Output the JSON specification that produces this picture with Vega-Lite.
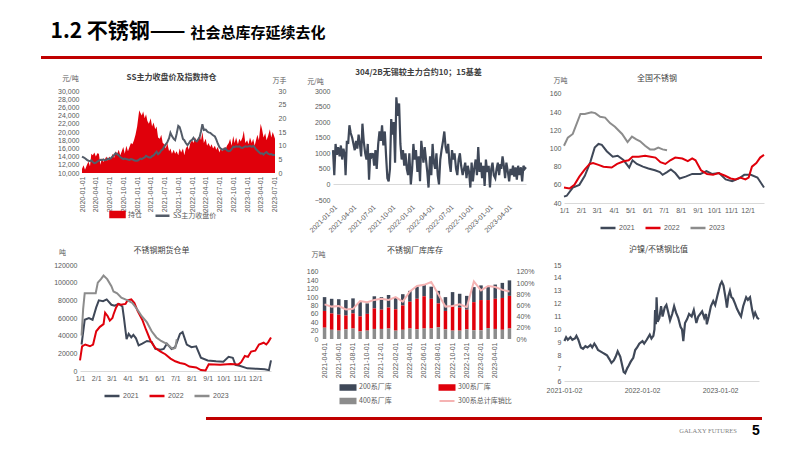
{
"$schema":"https://vega.github.io/schema/vega-lite/v6.json",
"background":"white",
"padding":{"left":41,"top":20,"right":4,"bottom":4},
"config":{
 "font":"Liberation Sans",
 "view":{"stroke":null},
 "axis":{"labelFontSize":7,"labelColor":"#595959","domain":false,"ticks":false,"grid":false,"titleFontSize":7,"titleColor":"#595959","titleFontWeight":"normal","titleFont":"Noto Sans CJK SC","labelPadding":3},
 "legend":{"labelFontSize":7,"labelColor":"#595959","labelFont":"Noto Sans CJK SC","orient":"none","direction":"horizontal"},
 "title":{"fontSize":8,"fontWeight":"normal","color":"#404040","font":"Noto Sans CJK SC","anchor":"middle"}
},
"datasets":{
"p1":[
{"d":"2020-01-01","p":14000,"h":1.5},{"d":"2020-01-11","p":13800,"h":2.8},{"d":"2020-01-21","p":13600,"h":1.2},
{"d":"2020-02-03","p":13200,"h":3.0},{"d":"2020-02-13","p":13000,"h":4.2},{"d":"2020-02-23","p":12900,"h":2.5},
{"d":"2020-03-03","p":13100,"h":7.0},{"d":"2020-03-13","p":12700,"h":6.5},{"d":"2020-03-23","p":12400,"h":7.5},
{"d":"2020-04-02","p":12500,"h":6.0},{"d":"2020-04-12","p":12800,"h":7.2},{"d":"2020-04-22","p":13000,"h":7.0},
{"d":"2020-05-02","p":13200,"h":3.0},{"d":"2020-05-12","p":13100,"h":5.5},{"d":"2020-05-22","p":13300,"h":4.0},
{"d":"2020-06-01","p":13100,"h":5.0},{"d":"2020-06-11","p":13200,"h":6.0},{"d":"2020-06-21","p":13500,"h":4.5},
{"d":"2020-07-01","p":13400,"h":6.0},{"d":"2020-07-11","p":13600,"h":5.0},{"d":"2020-07-21","p":14000,"h":7.0},
{"d":"2020-08-01","p":14400,"h":5.5},{"d":"2020-08-11","p":14800,"h":8.0},{"d":"2020-08-21","p":14600,"h":7.0},
{"d":"2020-09-01","p":14300,"h":8.5},{"d":"2020-09-11","p":13900,"h":6.5},{"d":"2020-09-21","p":13600,"h":8.0},
{"d":"2020-10-01","p":13400,"h":9.5},{"d":"2020-10-11","p":13500,"h":7.0},{"d":"2020-10-21","p":13400,"h":10.0},
{"d":"2020-11-01","p":13300,"h":8.0},{"d":"2020-11-11","p":13200,"h":9.5},{"d":"2020-11-21","p":13400,"h":11.0},
{"d":"2020-12-01","p":13300,"h":10.5},{"d":"2020-12-11","p":13100,"h":12.0},{"d":"2020-12-21","p":13000,"h":14.0},
{"d":"2021-01-01","p":13000,"h":17.0},{"d":"2021-01-08","p":13100,"h":20.0},{"d":"2021-01-15","p":13300,"h":23.0},{"d":"2021-01-22","p":13500,"h":22.0},
{"d":"2021-02-01","p":13400,"h":21.0},{"d":"2021-02-10","p":13600,"h":22.5},{"d":"2021-02-20","p":13800,"h":20.0},
{"d":"2021-03-01","p":14200,"h":21.5},{"d":"2021-03-10","p":14000,"h":19.0},{"d":"2021-03-20","p":13800,"h":18.0},
{"d":"2021-04-01","p":13800,"h":20.0},{"d":"2021-04-10","p":14100,"h":17.0},{"d":"2021-04-20","p":14300,"h":18.5},
{"d":"2021-05-01","p":14800,"h":16.0},{"d":"2021-05-10","p":15200,"h":17.0},{"d":"2021-05-20","p":14600,"h":13.0},
{"d":"2021-06-01","p":15000,"h":12.5},{"d":"2021-06-10","p":15500,"h":14.0},{"d":"2021-06-20","p":15800,"h":11.0},
{"d":"2021-07-01","p":16500,"h":10.5},{"d":"2021-07-10","p":17000,"h":9.0},{"d":"2021-07-20","p":17500,"h":11.0},
{"d":"2021-08-01","p":18500,"h":8.0},{"d":"2021-08-10","p":19800,"h":9.0},{"d":"2021-08-20","p":19000,"h":7.0},
{"d":"2021-09-01","p":18300,"h":8.5},{"d":"2021-09-10","p":18000,"h":7.0},{"d":"2021-09-20","p":19500,"h":8.0},
{"d":"2021-10-01","p":21500,"h":6.5},{"d":"2021-10-10","p":21200,"h":9.0},{"d":"2021-10-20","p":20000,"h":7.5},
{"d":"2021-11-01","p":18300,"h":9.0},{"d":"2021-11-10","p":18000,"h":6.5},{"d":"2021-11-20","p":17300,"h":9.0},
{"d":"2021-12-01","p":16800,"h":10.0},{"d":"2021-12-10","p":17200,"h":8.5},{"d":"2021-12-20","p":17800,"h":11.0},
{"d":"2022-01-01","p":18100,"h":12.0},{"d":"2022-01-10","p":18600,"h":11.0},{"d":"2022-01-20","p":18000,"h":13.0},
{"d":"2022-02-01","p":17700,"h":11.5},{"d":"2022-02-10","p":18200,"h":12.5},{"d":"2022-02-20","p":18800,"h":14.0},
{"d":"2022-03-01","p":20200,"h":12.0},{"d":"2022-03-10","p":21900,"h":15.0},{"d":"2022-03-20","p":20500,"h":11.0},
{"d":"2022-04-01","p":20600,"h":12.5},{"d":"2022-04-10","p":20200,"h":10.0},{"d":"2022-04-20","p":19900,"h":11.0},
{"d":"2022-05-01","p":19800,"h":9.5},{"d":"2022-05-10","p":19500,"h":10.5},{"d":"2022-05-20","p":19200,"h":9.0},
{"d":"2022-06-01","p":18900,"h":10.0},{"d":"2022-06-10","p":18200,"h":8.5},{"d":"2022-06-20","p":17200,"h":9.5},
{"d":"2022-07-01","p":16300,"h":7.5},{"d":"2022-07-10","p":16000,"h":9.0},{"d":"2022-07-20","p":15700,"h":8.0},
{"d":"2022-08-01","p":15800,"h":9.5},{"d":"2022-08-10","p":16000,"h":8.5},{"d":"2022-08-20","p":15500,"h":10.0},
{"d":"2022-09-01","p":15300,"h":11.0},{"d":"2022-09-10","p":15400,"h":12.5},{"d":"2022-09-20","p":15800,"h":10.0},
{"d":"2022-10-01","p":16400,"h":13.5},{"d":"2022-10-10","p":16300,"h":11.0},{"d":"2022-10-20","p":16500,"h":13.0},
{"d":"2022-11-01","p":16400,"h":10.5},{"d":"2022-11-10","p":16500,"h":12.5},{"d":"2022-11-20","p":16200,"h":11.5},
{"d":"2022-12-01","p":16100,"h":13.0},{"d":"2022-12-10","p":16300,"h":15.5},{"d":"2022-12-20","p":16500,"h":11.0},
{"d":"2023-01-01","p":16400,"h":12.0},{"d":"2023-01-10","p":16500,"h":10.5},{"d":"2023-01-20","p":16600,"h":13.0},
{"d":"2023-02-01","p":16400,"h":11.0},{"d":"2023-02-10","p":16600,"h":12.5},{"d":"2023-02-20","p":16300,"h":10.0},
{"d":"2023-03-01","p":15800,"h":12.0},{"d":"2023-03-10","p":15500,"h":14.0},{"d":"2023-03-20","p":15100,"h":12.0},
{"d":"2023-04-01","p":14700,"h":18.0},{"d":"2023-04-10","p":14800,"h":16.0},{"d":"2023-04-20","p":14500,"h":13.0},
{"d":"2023-05-01","p":14900,"h":14.5},{"d":"2023-05-10","p":15100,"h":12.0},{"d":"2023-05-20","p":14700,"h":13.5},
{"d":"2023-06-01","p":14500,"h":16.0},{"d":"2023-06-10","p":14600,"h":13.0},{"d":"2023-06-20","p":14400,"h":15.0},
{"d":"2023-07-05","p":14400,"h":12.5}
],
"p2":[
{"d":"2021-01-01","v":1100},{"d":"2021-01-07","v":300},{"d":"2021-01-13","v":1300},{"d":"2021-01-19","v":950},{"d":"2021-01-25","v":1200},
{"d":"2021-02-01","v":900},{"d":"2021-02-07","v":1250},{"d":"2021-02-13","v":800},{"d":"2021-02-19","v":1150},{"d":"2021-02-25","v":950},
{"d":"2021-03-01","v":300},{"d":"2021-03-07","v":1400},{"d":"2021-03-13","v":1300},{"d":"2021-03-19","v":1900},{"d":"2021-03-25","v":1650},
{"d":"2021-04-01","v":1500},{"d":"2021-04-07","v":1300},{"d":"2021-04-13","v":1100},{"d":"2021-04-19","v":1400},{"d":"2021-04-25","v":1150},
{"d":"2021-05-01","v":1600},{"d":"2021-05-07","v":1300},{"d":"2021-05-13","v":900},{"d":"2021-05-19","v":1950},{"d":"2021-05-25","v":1400},
{"d":"2021-06-01","v":1000},{"d":"2021-06-07","v":800},{"d":"2021-06-13","v":1300},{"d":"2021-06-19","v":150},{"d":"2021-06-25","v":1000},
{"d":"2021-07-01","v":900},{"d":"2021-07-07","v":1000},{"d":"2021-07-13","v":600},{"d":"2021-07-19","v":1100},{"d":"2021-07-25","v":500},
{"d":"2021-08-01","v":1300},{"d":"2021-08-07","v":1700},{"d":"2021-08-13","v":1400},{"d":"2021-08-19","v":1900},{"d":"2021-08-25","v":1250},
{"d":"2021-09-01","v":1700},{"d":"2021-09-07","v":900},{"d":"2021-09-13","v":200},{"d":"2021-09-19","v":100},{"d":"2021-09-25","v":500},
{"d":"2021-10-01","v":2100},{"d":"2021-10-07","v":1600},{"d":"2021-10-13","v":2000},{"d":"2021-10-19","v":700},{"d":"2021-10-25","v":2800},
{"d":"2021-11-01","v":2200},{"d":"2021-11-07","v":2600},{"d":"2021-11-13","v":1300},{"d":"2021-11-19","v":800},{"d":"2021-11-25","v":1100},
{"d":"2021-12-01","v":600},{"d":"2021-12-07","v":1000},{"d":"2021-12-13","v":500},{"d":"2021-12-19","v":300},{"d":"2021-12-25","v":1000},
{"d":"2022-01-01","v":0},{"d":"2022-01-07","v":500},{"d":"2022-01-13","v":1300},{"d":"2022-01-19","v":800},{"d":"2022-01-25","v":1100},
{"d":"2022-02-01","v":400},{"d":"2022-02-07","v":900},{"d":"2022-02-13","v":100},{"d":"2022-02-19","v":1400},{"d":"2022-02-25","v":1000},
{"d":"2022-03-01","v":700},{"d":"2022-03-07","v":1200},{"d":"2022-03-13","v":800},{"d":"2022-03-19","v":400},{"d":"2022-03-25","v":-100},
{"d":"2022-04-01","v":900},{"d":"2022-04-07","v":300},{"d":"2022-04-13","v":1300},{"d":"2022-04-19","v":700},{"d":"2022-04-25","v":500},
{"d":"2022-05-01","v":1000},{"d":"2022-05-07","v":300},{"d":"2022-05-13","v":0},{"d":"2022-05-19","v":800},{"d":"2022-05-25","v":1100},
{"d":"2022-06-01","v":1400},{"d":"2022-06-07","v":1700},{"d":"2022-06-13","v":1200},{"d":"2022-06-19","v":1000},{"d":"2022-06-25","v":1300},
{"d":"2022-07-01","v":700},{"d":"2022-07-07","v":400},{"d":"2022-07-13","v":1100},{"d":"2022-07-19","v":800},{"d":"2022-07-25","v":1000},
{"d":"2022-08-01","v":500},{"d":"2022-08-07","v":300},{"d":"2022-08-13","v":800},{"d":"2022-08-19","v":1000},{"d":"2022-08-25","v":600},
{"d":"2022-09-01","v":300},{"d":"2022-09-07","v":500},{"d":"2022-09-13","v":700},{"d":"2022-09-19","v":200},{"d":"2022-09-25","v":600},
{"d":"2022-10-01","v":400},{"d":"2022-10-07","v":-100},{"d":"2022-10-13","v":700},{"d":"2022-10-19","v":100},{"d":"2022-10-25","v":500},
{"d":"2022-11-01","v":800},{"d":"2022-11-07","v":300},{"d":"2022-11-13","v":1200},{"d":"2022-11-19","v":400},{"d":"2022-11-25","v":700},
{"d":"2022-12-01","v":200},{"d":"2022-12-07","v":600},{"d":"2022-12-13","v":-50},{"d":"2022-12-19","v":800},{"d":"2022-12-25","v":400},
{"d":"2023-01-01","v":600},{"d":"2023-01-07","v":-100},{"d":"2023-01-13","v":500},{"d":"2023-01-19","v":700},{"d":"2023-01-25","v":300},
{"d":"2023-02-01","v":200},{"d":"2023-02-07","v":500},{"d":"2023-02-13","v":700},{"d":"2023-02-19","v":300},{"d":"2023-02-25","v":650},
{"d":"2023-03-01","v":500},{"d":"2023-03-07","v":900},{"d":"2023-03-13","v":600},{"d":"2023-03-19","v":200},{"d":"2023-03-25","v":700},
{"d":"2023-04-01","v":400},{"d":"2023-04-07","v":100},{"d":"2023-04-13","v":500},{"d":"2023-04-19","v":300},{"d":"2023-04-25","v":600},
{"d":"2023-05-01","v":250},{"d":"2023-05-07","v":550},{"d":"2023-05-13","v":150},{"d":"2023-05-19","v":600},{"d":"2023-05-25","v":300},
{"d":"2023-06-01","v":550},{"d":"2023-06-07","v":100},{"d":"2023-06-13","v":600},{"d":"2023-06-19","v":500},{"d":"2023-06-25","v":550}
],
"p3":[
{"yr":"2021","d":"2021-01-01","v":47},{"yr":"2021","d":"2021-01-06","v":48},{"yr":"2021","d":"2021-01-17","v":57},{"yr":"2021","d":"2021-01-29","v":60},
{"yr":"2021","d":"2021-02-08","v":70},{"yr":"2021","d":"2021-02-18","v":85},{"yr":"2021","d":"2021-02-26","v":101},{"yr":"2021","d":"2021-03-04","v":105},
{"yr":"2021","d":"2021-03-10","v":104},{"yr":"2021","d":"2021-03-19","v":97},{"yr":"2021","d":"2021-03-30","v":91},{"yr":"2021","d":"2021-04-08","v":92},
{"yr":"2021","d":"2021-04-19","v":87},{"yr":"2021","d":"2021-04-29","v":79},{"yr":"2021","d":"2021-05-05","v":87},{"yr":"2021","d":"2021-05-13","v":83},
{"yr":"2021","d":"2021-05-24","v":80},{"yr":"2021","d":"2021-06-03","v":78},{"yr":"2021","d":"2021-06-15","v":76},{"yr":"2021","d":"2021-06-24","v":74},
{"yr":"2021","d":"2021-06-29","v":71},{"yr":"2021","d":"2021-07-07","v":74},{"yr":"2021","d":"2021-07-14","v":77},{"yr":"2021","d":"2021-07-22","v":73},
{"yr":"2021","d":"2021-07-30","v":67},{"yr":"2021","d":"2021-08-10","v":69},{"yr":"2021","d":"2021-08-22","v":72},{"yr":"2021","d":"2021-09-06","v":72},
{"yr":"2021","d":"2021-09-17","v":75},{"yr":"2021","d":"2021-09-27","v":72},{"yr":"2021","d":"2021-10-10","v":73},{"yr":"2021","d":"2021-10-22","v":66},
{"yr":"2021","d":"2021-11-03","v":64},{"yr":"2021","d":"2021-11-15","v":67},{"yr":"2021","d":"2021-11-25","v":71},{"yr":"2021","d":"2021-12-07","v":71},
{"yr":"2021","d":"2021-12-19","v":68},{"yr":"2021","d":"2021-12-31","v":57},
{"yr":"2022","d":"2022-01-01","v":57},{"yr":"2022","d":"2022-01-11","v":56},{"yr":"2022","d":"2022-01-20","v":60},{"yr":"2022","d":"2022-01-29","v":69},
{"yr":"2022","d":"2022-02-08","v":77},{"yr":"2022","d":"2022-02-17","v":83},{"yr":"2022","d":"2022-02-23","v":84},{"yr":"2022","d":"2022-03-04","v":82},
{"yr":"2022","d":"2022-03-13","v":80},{"yr":"2022","d":"2022-03-28","v":79},{"yr":"2022","d":"2022-04-07","v":83},{"yr":"2022","d":"2022-04-19","v":86},
{"yr":"2022","d":"2022-04-28","v":87},{"yr":"2022","d":"2022-05-05","v":91},{"yr":"2022","d":"2022-05-16","v":91},{"yr":"2022","d":"2022-05-28","v":92},
{"yr":"2022","d":"2022-06-07","v":91},{"yr":"2022","d":"2022-06-16","v":90},{"yr":"2022","d":"2022-06-25","v":85},{"yr":"2022","d":"2022-07-04","v":83},
{"yr":"2022","d":"2022-07-13","v":87},{"yr":"2022","d":"2022-07-22","v":90},{"yr":"2022","d":"2022-08-04","v":89},{"yr":"2022","d":"2022-08-14","v":86},
{"yr":"2022","d":"2022-08-22","v":89},{"yr":"2022","d":"2022-08-28","v":87},{"yr":"2022","d":"2022-09-07","v":76},{"yr":"2022","d":"2022-09-18","v":72},
{"yr":"2022","d":"2022-09-29","v":71},{"yr":"2022","d":"2022-10-09","v":73},{"yr":"2022","d":"2022-10-21","v":70},{"yr":"2022","d":"2022-10-31","v":67},
{"yr":"2022","d":"2022-11-09","v":66},{"yr":"2022","d":"2022-11-18","v":68},{"yr":"2022","d":"2022-11-27","v":66},{"yr":"2022","d":"2022-12-03","v":68},
{"yr":"2022","d":"2022-12-09","v":80},{"yr":"2022","d":"2022-12-17","v":84},{"yr":"2022","d":"2022-12-24","v":90},{"yr":"2022","d":"2022-12-31","v":93},
{"yr":"2023","d":"2023-01-01","v":103},{"yr":"2023","d":"2023-01-08","v":112},{"yr":"2023","d":"2023-01-17","v":116},{"yr":"2023","d":"2023-01-31","v":138},
{"yr":"2023","d":"2023-02-08","v":138},{"yr":"2023","d":"2023-02-20","v":140},{"yr":"2023","d":"2023-02-27","v":139},{"yr":"2023","d":"2023-03-07","v":135},
{"yr":"2023","d":"2023-03-16","v":134},{"yr":"2023","d":"2023-03-25","v":128},{"yr":"2023","d":"2023-04-03","v":124},{"yr":"2023","d":"2023-04-16","v":116},
{"yr":"2023","d":"2023-04-26","v":107},{"yr":"2023","d":"2023-05-04","v":113},{"yr":"2023","d":"2023-05-12","v":110},{"yr":"2023","d":"2023-05-19","v":108},
{"yr":"2023","d":"2023-05-28","v":103},{"yr":"2023","d":"2023-06-06","v":99},{"yr":"2023","d":"2023-06-14","v":99},{"yr":"2023","d":"2023-06-21","v":101},
{"yr":"2023","d":"2023-06-29","v":99},{"yr":"2023","d":"2023-07-07","v":98}
],
"p4":[
{"yr":"2021","d":"2021-01-04","v":30000},{"yr":"2021","d":"2021-01-10","v":58000},{"yr":"2021","d":"2021-01-18","v":60000},{"yr":"2021","d":"2021-01-25","v":58000},
{"yr":"2021","d":"2021-02-01","v":72000},{"yr":"2021","d":"2021-02-06","v":80000},{"yr":"2021","d":"2021-02-14","v":79000},{"yr":"2021","d":"2021-02-21","v":81000},
{"yr":"2021","d":"2021-03-01","v":75000},{"yr":"2021","d":"2021-03-07","v":74000},{"yr":"2021","d":"2021-03-15","v":76000},{"yr":"2021","d":"2021-03-22","v":73000},
{"yr":"2021","d":"2021-03-25","v":60000},{"yr":"2021","d":"2021-03-30","v":36000},{"yr":"2021","d":"2021-04-03","v":42000},{"yr":"2021","d":"2021-04-08","v":38000},
{"yr":"2021","d":"2021-04-12","v":41000},{"yr":"2021","d":"2021-04-17","v":37000},{"yr":"2021","d":"2021-04-22","v":29000},{"yr":"2021","d":"2021-04-29","v":31000},
{"yr":"2021","d":"2021-05-08","v":34000},{"yr":"2021","d":"2021-05-17","v":33000},{"yr":"2021","d":"2021-05-24","v":25000},{"yr":"2021","d":"2021-06-03","v":24000},
{"yr":"2021","d":"2021-06-09","v":25000},{"yr":"2021","d":"2021-06-15","v":31000},{"yr":"2021","d":"2021-06-24","v":25000},{"yr":"2021","d":"2021-07-01","v":27000},
{"yr":"2021","d":"2021-07-10","v":42000},{"yr":"2021","d":"2021-07-15","v":44000},{"yr":"2021","d":"2021-07-23","v":30000},{"yr":"2021","d":"2021-08-01","v":27000},
{"yr":"2021","d":"2021-08-10","v":28000},{"yr":"2021","d":"2021-08-19","v":15000},{"yr":"2021","d":"2021-09-01","v":12000},{"yr":"2021","d":"2021-09-17","v":11000},
{"yr":"2021","d":"2021-10-01","v":10500},{"yr":"2021","d":"2021-10-11","v":16000},{"yr":"2021","d":"2021-10-19","v":15000},{"yr":"2021","d":"2021-10-24","v":7000},
{"yr":"2021","d":"2021-11-01","v":6000},{"yr":"2021","d":"2021-11-16","v":3000},{"yr":"2021","d":"2021-12-04","v":2500},{"yr":"2021","d":"2021-12-19","v":2000},
{"yr":"2021","d":"2021-12-27","v":1000},{"yr":"2021","d":"2021-12-31","v":12000},
{"yr":"2022","d":"2022-01-01","v":12000},{"yr":"2022","d":"2022-01-05","v":28000},{"yr":"2022","d":"2022-01-11","v":30000},{"yr":"2022","d":"2022-01-20","v":28000},
{"yr":"2022","d":"2022-01-26","v":30000},{"yr":"2022","d":"2022-02-01","v":45000},{"yr":"2022","d":"2022-02-08","v":50000},{"yr":"2022","d":"2022-02-15","v":53000},
{"yr":"2022","d":"2022-02-18","v":66000},{"yr":"2022","d":"2022-02-23","v":62000},{"yr":"2022","d":"2022-02-27","v":57000},{"yr":"2022","d":"2022-03-03","v":60000},
{"yr":"2022","d":"2022-03-05","v":64000},{"yr":"2022","d":"2022-03-10","v":72000},{"yr":"2022","d":"2022-03-14","v":76000},{"yr":"2022","d":"2022-03-19","v":75000},
{"yr":"2022","d":"2022-03-28","v":76000},{"yr":"2022","d":"2022-04-01","v":80000},{"yr":"2022","d":"2022-04-08","v":81000},{"yr":"2022","d":"2022-04-14","v":77000},
{"yr":"2022","d":"2022-04-20","v":68000},{"yr":"2022","d":"2022-04-29","v":58000},{"yr":"2022","d":"2022-05-06","v":47000},{"yr":"2022","d":"2022-05-15","v":34000},
{"yr":"2022","d":"2022-05-24","v":26000},{"yr":"2022","d":"2022-06-03","v":22000},{"yr":"2022","d":"2022-06-12","v":19000},{"yr":"2022","d":"2022-06-22","v":14000},
{"yr":"2022","d":"2022-07-01","v":11000},{"yr":"2022","d":"2022-07-10","v":9000},{"yr":"2022","d":"2022-07-19","v":8000},{"yr":"2022","d":"2022-07-28","v":5000},
{"yr":"2022","d":"2022-08-10","v":4000},{"yr":"2022","d":"2022-08-19","v":1000},{"yr":"2022","d":"2022-08-28","v":500},{"yr":"2022","d":"2022-09-03","v":7500},
{"yr":"2022","d":"2022-09-25","v":7000},{"yr":"2022","d":"2022-10-15","v":8000},{"yr":"2022","d":"2022-10-30","v":7500},{"yr":"2022","d":"2022-11-04","v":10000},
{"yr":"2022","d":"2022-11-11","v":17000},{"yr":"2022","d":"2022-11-17","v":16000},{"yr":"2022","d":"2022-11-23","v":22000},{"yr":"2022","d":"2022-12-01","v":23000},
{"yr":"2022","d":"2022-12-08","v":30000},{"yr":"2022","d":"2022-12-17","v":32000},{"yr":"2022","d":"2022-12-22","v":30000},{"yr":"2022","d":"2022-12-26","v":33000},
{"yr":"2022","d":"2022-12-31","v":38000},
{"yr":"2023","d":"2023-01-04","v":40000},{"yr":"2023","d":"2023-01-07","v":70000},{"yr":"2023","d":"2023-01-10","v":88000},{"yr":"2023","d":"2023-01-20","v":88000},
{"yr":"2023","d":"2023-01-31","v":88000},{"yr":"2023","d":"2023-02-04","v":100000},{"yr":"2023","d":"2023-02-10","v":104000},{"yr":"2023","d":"2023-02-15","v":108000},
{"yr":"2023","d":"2023-02-22","v":104000},{"yr":"2023","d":"2023-03-01","v":96000},{"yr":"2023","d":"2023-03-05","v":90000},{"yr":"2023","d":"2023-03-12","v":88000},
{"yr":"2023","d":"2023-03-20","v":83000},{"yr":"2023","d":"2023-04-01","v":80000},{"yr":"2023","d":"2023-04-10","v":77000},{"yr":"2023","d":"2023-04-19","v":70000},
{"yr":"2023","d":"2023-04-28","v":62000},{"yr":"2023","d":"2023-05-08","v":55000},{"yr":"2023","d":"2023-05-17","v":45000},{"yr":"2023","d":"2023-05-26","v":38000},
{"yr":"2023","d":"2023-06-04","v":34000},{"yr":"2023","d":"2023-06-14","v":31000},{"yr":"2023","d":"2023-06-20","v":28000},{"yr":"2023","d":"2023-06-26","v":25000},
{"yr":"2023","d":"2023-07-01","v":26000},{"yr":"2023","d":"2023-07-04","v":36000}
],
"stock":[
{"m":"2021-04-01","s":"200系厂库","v":33},{"m":"2021-04-01","s":"300系厂库","v":40},{"m":"2021-04-01","s":"400系厂库","v":27},
{"m":"2021-05-01","s":"200系厂库","v":35},{"m":"2021-05-01","s":"300系厂库","v":39},{"m":"2021-05-01","s":"400系厂库","v":22},
{"m":"2021-06-01","s":"200系厂库","v":37},{"m":"2021-06-01","s":"300系厂库","v":38},{"m":"2021-06-01","s":"400系厂库","v":20},
{"m":"2021-07-01","s":"200系厂库","v":37},{"m":"2021-07-01","s":"300系厂库","v":33},{"m":"2021-07-01","s":"400系厂库","v":23},
{"m":"2021-08-01","s":"200系厂库","v":36},{"m":"2021-08-01","s":"300系厂库","v":36},{"m":"2021-08-01","s":"400系厂库","v":25},
{"m":"2021-09-01","s":"200系厂库","v":34},{"m":"2021-09-01","s":"300系厂库","v":36},{"m":"2021-09-01","s":"400系厂库","v":18},
{"m":"2021-10-01","s":"200系厂库","v":25},{"m":"2021-10-01","s":"300系厂库","v":40},{"m":"2021-10-01","s":"400系厂库","v":20},
{"m":"2021-11-01","s":"200系厂库","v":29},{"m":"2021-11-01","s":"300系厂库","v":49},{"m":"2021-11-01","s":"400系厂库","v":24},
{"m":"2021-12-01","s":"200系厂库","v":30},{"m":"2021-12-01","s":"300系厂库","v":46},{"m":"2021-12-01","s":"400系厂库","v":24},
{"m":"2022-01-01","s":"200系厂库","v":30},{"m":"2022-01-01","s":"300系厂库","v":50},{"m":"2022-01-01","s":"400系厂库","v":25},
{"m":"2022-02-01","s":"200系厂库","v":27},{"m":"2022-02-01","s":"300系厂库","v":51},{"m":"2022-02-01","s":"400系厂库","v":20},
{"m":"2022-03-01","s":"200系厂库","v":27},{"m":"2022-03-01","s":"300系厂库","v":58},{"m":"2022-03-01","s":"400系厂库","v":22},
{"m":"2022-04-01","s":"200系厂库","v":26},{"m":"2022-04-01","s":"300系厂库","v":64},{"m":"2022-04-01","s":"400系厂库","v":25},
{"m":"2022-05-01","s":"200系厂库","v":29},{"m":"2022-05-01","s":"300系厂库","v":73},{"m":"2022-05-01","s":"400系厂库","v":23},
{"m":"2022-06-01","s":"200系厂库","v":28},{"m":"2022-06-01","s":"300系厂库","v":77},{"m":"2022-06-01","s":"400系厂库","v":25},
{"m":"2022-07-01","s":"200系厂库","v":29},{"m":"2022-07-01","s":"300系厂库","v":71},{"m":"2022-07-01","s":"400系厂库","v":25},
{"m":"2022-08-01","s":"200系厂库","v":30},{"m":"2022-08-01","s":"300系厂库","v":57},{"m":"2022-08-01","s":"400系厂库","v":28},
{"m":"2022-09-01","s":"200系厂库","v":33},{"m":"2022-09-01","s":"300系厂库","v":44},{"m":"2022-09-01","s":"400系厂库","v":23},
{"m":"2022-10-01","s":"200系厂库","v":35},{"m":"2022-10-01","s":"300系厂库","v":57},{"m":"2022-10-01","s":"400系厂库","v":20},
{"m":"2022-11-01","s":"200系厂库","v":33},{"m":"2022-11-01","s":"300系厂库","v":55},{"m":"2022-11-01","s":"400系厂库","v":20},
{"m":"2022-12-01","s":"200系厂库","v":33},{"m":"2022-12-01","s":"300系厂库","v":47},{"m":"2022-12-01","s":"400系厂库","v":23},
{"m":"2023-01-01","s":"200系厂库","v":36},{"m":"2023-01-01","s":"300系厂库","v":67},{"m":"2023-01-01","s":"400系厂库","v":21},
{"m":"2023-02-01","s":"200系厂库","v":35},{"m":"2023-02-01","s":"300系厂库","v":72},{"m":"2023-02-01","s":"400系厂库","v":21},
{"m":"2023-03-01","s":"200系厂库","v":33},{"m":"2023-03-01","s":"300系厂库","v":67},{"m":"2023-03-01","s":"400系厂库","v":26},
{"m":"2023-04-01","s":"200系厂库","v":34},{"m":"2023-04-01","s":"300系厂库","v":72},{"m":"2023-04-01","s":"400系厂库","v":24},
{"m":"2023-05-01","s":"200系厂库","v":36},{"m":"2023-05-01","s":"300系厂库","v":76},{"m":"2023-05-01","s":"400系厂库","v":22},
{"m":"2023-06-01","s":"200系厂库","v":37},{"m":"2023-06-01","s":"300系厂库","v":78},{"m":"2023-06-01","s":"400系厂库","v":25}
],
"ratio":[
{"m":"2021-04-01","r":0.62},{"m":"2021-05-01","r":0.58},{"m":"2021-06-01","r":0.59},{"m":"2021-07-01","r":0.53},{"m":"2021-08-01","r":0.54},
{"m":"2021-09-01","r":0.68},{"m":"2021-10-01","r":0.66},{"m":"2021-11-01","r":0.70},{"m":"2021-12-01","r":0.72},{"m":"2022-01-01","r":0.70},
{"m":"2022-02-01","r":0.75},{"m":"2022-03-01","r":0.67},{"m":"2022-04-01","r":0.85},{"m":"2022-05-01","r":0.95},{"m":"2022-06-01","r":0.97},
{"m":"2022-07-01","r":1.02},{"m":"2022-08-01","r":0.80},{"m":"2022-09-01","r":0.58},{"m":"2022-10-01","r":0.59},{"m":"2022-11-01","r":0.62},
{"m":"2022-12-01","r":0.57},{"m":"2023-01-01","r":1.03},{"m":"2023-02-01","r":0.87},{"m":"2023-03-01","r":0.95},{"m":"2023-04-01","r":0.93},
{"m":"2023-05-01","r":0.88},{"m":"2023-06-01","r":0.85}
],
"p6":[
{"d":"2021-01-04","v":9.1},{"d":"2021-01-12","v":9.4},{"d":"2021-01-20","v":9.2},{"d":"2021-02-01","v":9.4},{"d":"2021-02-10","v":9.2},{"d":"2021-02-22","v":9.3},
{"d":"2021-03-01","v":9.5},{"d":"2021-03-10","v":9.2},{"d":"2021-03-22","v":8.6},{"d":"2021-04-01","v":8.5},{"d":"2021-04-12","v":8.7},{"d":"2021-04-22","v":8.6},
{"d":"2021-05-06","v":8.8},{"d":"2021-05-14","v":8.6},{"d":"2021-05-24","v":8.9},{"d":"2021-06-01","v":8.7},{"d":"2021-06-10","v":8.4},{"d":"2021-06-21","v":8.3},
{"d":"2021-07-01","v":8.2},{"d":"2021-07-12","v":8.1},{"d":"2021-07-22","v":8.0},{"d":"2021-08-02","v":7.7},{"d":"2021-08-12","v":7.4},{"d":"2021-08-23","v":7.6},
{"d":"2021-09-01","v":7.9},{"d":"2021-09-10","v":8.3},{"d":"2021-09-22","v":7.9},{"d":"2021-10-08","v":6.7},{"d":"2021-10-15","v":6.6},{"d":"2021-10-25","v":7.0},
{"d":"2021-11-01","v":7.2},{"d":"2021-11-10","v":7.5},{"d":"2021-11-22","v":7.8},{"d":"2021-12-01","v":8.4},{"d":"2021-12-10","v":8.6},{"d":"2021-12-20","v":8.9},
{"d":"2022-01-04","v":9.1},{"d":"2022-01-12","v":8.9},{"d":"2022-01-24","v":9.2},{"d":"2022-02-07","v":9.6},{"d":"2022-02-15","v":9.3},{"d":"2022-02-24","v":9.5},
{"d":"2022-03-01","v":10.0},{"d":"2022-03-04","v":11.5},{"d":"2022-03-08","v":10.4},{"d":"2022-03-11","v":12.5},{"d":"2022-03-16","v":10.6},{"d":"2022-03-24","v":10.9},
{"d":"2022-04-01","v":11.8},{"d":"2022-04-08","v":11.0},{"d":"2022-04-18","v":11.7},{"d":"2022-04-26","v":11.9},{"d":"2022-05-05","v":11.3},{"d":"2022-05-13","v":10.7},
{"d":"2022-05-23","v":11.2},{"d":"2022-06-01","v":11.8},{"d":"2022-06-10","v":11.3},{"d":"2022-06-20","v":10.9},{"d":"2022-07-01","v":10.2},{"d":"2022-07-08","v":10.0},
{"d":"2022-07-14","v":9.1},{"d":"2022-07-22","v":10.5},{"d":"2022-08-01","v":10.8},{"d":"2022-08-10","v":11.2},{"d":"2022-08-22","v":11.0},{"d":"2022-09-01","v":11.5},
{"d":"2022-09-13","v":10.5},{"d":"2022-09-22","v":11.0},{"d":"2022-10-10","v":11.4},{"d":"2022-10-20","v":10.9},{"d":"2022-10-28","v":11.2},{"d":"2022-11-01","v":10.4},
{"d":"2022-11-10","v":11.0},{"d":"2022-11-20","v":11.8},{"d":"2022-12-01","v":12.2},{"d":"2022-12-10","v":11.9},{"d":"2022-12-20","v":12.6},
{"d":"2023-01-03","v":13.5},{"d":"2023-01-10","v":13.7},{"d":"2023-01-18","v":13.4},{"d":"2023-01-30","v":12.2},{"d":"2023-02-03","v":11.7},{"d":"2023-02-10","v":12.6},
{"d":"2023-02-17","v":13.0},{"d":"2023-02-24","v":12.5},{"d":"2023-03-03","v":12.4},{"d":"2023-03-13","v":12.0},{"d":"2023-03-22","v":11.6},{"d":"2023-04-03","v":11.2},
{"d":"2023-04-10","v":11.0},{"d":"2023-04-20","v":11.8},{"d":"2023-05-04","v":12.5},{"d":"2023-05-12","v":12.3},{"d":"2023-05-22","v":12.5},{"d":"2023-06-01","v":11.5},
{"d":"2023-06-08","v":11.0},{"d":"2023-06-15","v":11.3},{"d":"2023-06-25","v":10.9},{"d":"2023-07-03","v":10.8}
]
},
"spacing":9,
"resolve":{"scale":{"x":"independent","y":"independent","color":"independent"},"legend":{"color":"independent"},"axis":{"x":"independent","y":"independent"}},
"vconcat":[
{"spacing":9,
 "resolve":{"scale":{"x":"independent","y":"independent","color":"independent"},"legend":{"color":"independent"},"axis":{"x":"independent","y":"independent"}},
 "vconcat":[
 {"width":721,"height":3,
  "data":{"values":[{}]},
  "mark":{"type":"rect","color":"#c00000"},
  "encoding":{
   "x":{"datum":0,"type":"quantitative","scale":{"domain":[0,1]},"axis":{"orient":"top","title":"社会总库存延续去化","labels":false,"titleX":149,"titleY":-19,"titleAlign":"left","titleBaseline":"alphabetic","titleFontSize":15,"titleFontWeight":"bold","titleColor":"#000000","titleAngle":0}},
   "x2":{"datum":1},
   "y":{"datum":0,"type":"quantitative","scale":{"domain":[0,1]},"axis":{"orient":"left","title":"1.2 不锈钢——","labels":false,"titleX":9,"titleY":-19,"titleAlign":"left","titleBaseline":"alphabetic","titleFontSize":21,"titleFontWeight":"bold","titleColor":"#000000","titleAngle":0}},
   "y2":{"datum":1}
  }},
 {"spacing":5,
  "resolve":{"scale":{"x":"independent","y":"independent","color":"independent"},"legend":{"color":"independent"},"axis":{"x":"independent","y":"independent"}},
  "hconcat":[
  {"width":11,"height":3,"data":{"values":[]},"mark":"point","encoding":{}},
  {"width":193,"height":82,
   "title":{"text":"SS主力收盘价及指数持仓","fontWeight":"bold","dx":-7,"offset":-7.5},
   "data":{"name":"p1"},
   "layer":[
    {"mark":{"type":"area"},
     "encoding":{
      "x":{"field":"d","type":"temporal","scale":{"type":"utc"},"axis":{"title":null,"format":"%Y-%m-%d","labelAngle":270,"tickCount":{"interval":"month","step":3},"labelOverlap":false,"labelFlush":false}},
      "y":{"field":"h","type":"quantitative","scale":{"domain":[0,30]},"axis":{"orient":"right","values":[0,5,10,15,20,25,30],"labelOverlap":false,"title":"万手","titleAngle":0,"titleX":4,"titleY":-11,"titleAlign":"center","titleBaseline":"middle"}},
      "color":{"datum":"持仓","type":"nominal","scale":{"domain":["持仓","SS主力收盘价"],"range":["#e0000b","#545c68"]},
       "legend":{"title":null,"legendX":27,"legendY":115,"symbolSize":196,"columnPadding":8,"labelOffset":2,
        "encode":{"symbols":{"update":{"shape":{"signal":"datum.value === '持仓' ? 'M-1,-0.35L1,-0.35L1,0.35L-1,0.35Z' : 'stroke'"},"fill":{"signal":"datum.value === '持仓' ? '#e0000b' : 'transparent'"},"stroke":{"signal":"datum.value === '持仓' ? 'transparent' : '#545c68'"},"strokeWidth":{"value":2.5}}}}}}
     }},
    {"mark":{"type":"line","strokeWidth":2},
     "encoding":{
      "x":{"field":"d","type":"temporal"},
      "y":{"field":"p","type":"quantitative","scale":{"domain":[10000,30000]},"axis":{"orient":"left","values":[10000,12000,14000,16000,18000,20000,22000,24000,26000,28000,30000],"labelOverlap":false,"format":",.0f","title":"元/吨","titleAngle":0,"titleX":-12,"titleY":-13,"titleAlign":"center","titleBaseline":"middle"}},
      "color":{"datum":"SS主力收盘价","type":"nominal"}
     }}
   ],
   "resolve":{"scale":{"y":"independent"}}
  },
  {"width":10,"height":3,"data":{"values":[]},"mark":"point","encoding":{}},
  {"width":193,"height":109,
   "title":{"text":"304/2B无锡较主力合约10；15基差","fontWeight":"bold","dx":-11,"offset":0.5},
   "data":{"name":"p2"},
   "mark":{"type":"line","strokeWidth":2.2,"color":"#3f4858"},
   "encoding":{
    "x":{"field":"d","type":"temporal","scale":{"type":"utc","domain":[{"year":2021,"month":1,"date":1,"utc":true},{"year":2023,"month":6,"date":25,"utc":true}]},"axis":{"title":null,"format":"%Y-%m-%d","labelAngle":315,"tickCount":{"interval":"month","step":3},"labelOverlap":false,"labelFlush":false}},
    "y":{"field":"v","type":"quantitative","scale":{"domain":[-500,3000]},"axis":{"values":[-500,0,500,1000,1500,2000,2500,3000],"labelOverlap":false,"format":"d","grid":true,"gridColor":{"condition":{"test":"datum.value === 0","value":"#d9d9d9"},"value":"transparent"},"title":"元/吨","titleAngle":0,"titleX":-18,"titleY":-10,"titleAlign":"center","titleBaseline":"middle"}}
   }},
  {"width":8,"height":3,"data":{"values":[]},"mark":"point","encoding":{}},
  {"width":200,"height":112,
   "title":{"text":"全国不锈钢","dx":-7,"offset":-6.5},
   "data":{"name":"p3"},
   "mark":{"type":"line","strokeWidth":2},
   "encoding":{
    "x":{"field":"d","timeUnit":"utcmonthdate","type":"temporal","axis":{"title":null,"format":"%-m/%-d","tickCount":"month","labelAngle":0,"domain":true,"domainColor":"#d9d9d9","labelFlush":false,"labelOverlap":false}},
    "y":{"field":"v","type":"quantitative","scale":{"domain":[40,163.3],"nice":false},"axis":{"values":[40,60,80,100,120,140,160],"labelOverlap":false,"title":"万吨","titleAngle":0,"titleX":-4,"titleY":-11,"titleAlign":"center","titleBaseline":"middle"}},
    "color":{"field":"yr","type":"nominal","scale":{"domain":["2021","2022","2023"],"range":["#3f4858","#e0000b","#8c8c8c"]},"legend":{"title":null,"legendX":31,"legendY":124,"padding":4,"symbolType":"stroke","symbolSize":225,"symbolStrokeWidth":2.5,"columnPadding":5,"labelOffset":2,"labelFont":"Liberation Sans"}}
   }}
 ]}
]},
{"spacing":5,
 "resolve":{"scale":{"x":"independent","y":"independent","color":"independent"},"legend":{"color":"independent"},"axis":{"x":"independent","y":"independent"}},
 "hconcat":[
 {"width":7,"height":3,"data":{"values":[]},"mark":"point","encoding":{}},
 {"width":191,"height":106,
  "title":{"text":"不锈钢期货仓单","dx":-14,"offset":-6.5},
  "data":{"name":"p4"},
  "mark":{"type":"line","strokeWidth":2},
  "encoding":{
   "x":{"field":"d","timeUnit":"utcmonthdate","type":"temporal","axis":{"title":null,"format":"%-m/%-d","tickCount":"month","labelAngle":0,"domain":true,"domainColor":"#d9d9d9","labelFlush":false,"labelOverlap":false}},
   "y":{"field":"v","type":"quantitative","scale":{"domain":[0,120000]},"axis":{"values":[0,20000,40000,60000,80000,100000,120000],"labelOverlap":false,"format":"d","title":"吨","titleAngle":0,"titleX":-18,"titleY":-13,"titleAlign":"center","titleBaseline":"middle"}},
   "color":{"field":"yr","type":"nominal","scale":{"domain":["2021","2022","2023"],"range":["#3f4858","#e0000b","#8c8c8c"]},"legend":{"title":null,"legendX":23,"legendY":122,"symbolType":"stroke","symbolSize":225,"symbolStrokeWidth":2.5,"columnPadding":5,"labelOffset":2,"labelFont":"Liberation Sans"}}
  }},
 {"width":21,"height":3,"data":{"values":[]},"mark":"point","encoding":{}},
 {"width":192,"height":74,
  "title":{"text":"不锈钢厂库库存","dx":-2,"offset":-4.5},
  "layer":[
   {"data":{"name":"stock"},"mark":{"type":"bar","width":3.5},
    "encoding":{
     "x":{"field":"m","type":"ordinal","axis":{"title":null,"values":["2021-04-01","2021-06-01","2021-08-01","2021-10-01","2021-12-01","2022-02-01","2022-04-01","2022-06-01","2022-08-01","2022-10-01","2022-12-01","2023-02-01","2023-04-01"],"labelAngle":270}},
     "y":{"field":"v","type":"quantitative","scale":{"domain":[0,176.7],"nice":false},"axis":{"orient":"left","values":[0,20,40,60,80,100,120,140,160],"labelOverlap":false,"title":"万吨","titleAngle":0,"titleX":-3,"titleY":-11,"titleAlign":"center","titleBaseline":"middle"}},
     "color":{"field":"s","type":"nominal","scale":{"domain":["200系厂库","300系厂库","400系厂库","300系总计库销比"],"range":["#3f4858","#e0000b","#8c8c8c","#f5b3b3"]},
      "legend":{"title":null,"columns":2,"legendX":21,"legendY":116,"symbolSize":100,"columnPadding":43,"rowPadding":0,"labelOffset":5,
       "encode":{"symbols":{"update":{"shape":{"signal":"datum.value === '300系总计库销比' ? 'M-1.5,0L1.5,0' : 'M-1.5,-0.45L1.5,-0.45L1.5,0.45L-1.5,0.45Z'"},"fill":{"signal":"datum.value === '200系厂库' ? '#3f4858' : datum.value === '300系厂库' ? '#e0000b' : datum.value === '400系厂库' ? '#8c8c8c' : 'transparent'"},"stroke":{"signal":"datum.value === '300系总计库销比' ? '#f5b3b3' : 'transparent'"},"strokeWidth":{"value":2}}}}}}
    }},
   {"data":{"name":"ratio"},"mark":{"type":"line","strokeWidth":2},
    "encoding":{
     "x":{"field":"m","type":"ordinal"},
     "y":{"field":"r","type":"quantitative","scale":{"domain":[0,1.3253],"nice":false},"axis":{"orient":"right","format":".0%","values":[0,0.2,0.4,0.6,0.8,1.0,1.2],"labelOverlap":false,"title":null}},
     "color":{"datum":"300系总计库销比","type":"nominal"}
    }}
  ],
  "resolve":{"scale":{"y":"independent"}}
 },
 {"width":2,"height":3,"data":{"values":[]},"mark":"point","encoding":{}},
 {"width":195,"height":116,
  "title":{"text":"沪镍/不锈钢比值","dx":-3,"offset":7},
  "data":{"name":"p6"},
  "mark":{"type":"line","strokeWidth":2.2,"color":"#3f4858"},
  "encoding":{
   "x":{"field":"d","type":"temporal","scale":{"type":"utc","domain":[{"year":2021,"month":1,"date":2,"utc":true},{"year":2023,"month":7,"date":3,"utc":true}]},"axis":{"title":null,"format":"%Y-%m-%d","labelAngle":0,"values":[{"year":2021,"month":1,"date":2,"utc":true},{"year":2022,"month":1,"date":2,"utc":true},{"year":2023,"month":1,"date":2,"utc":true}],"domain":true,"domainColor":"#d9d9d9","labelFlush":false,"labelPadding":5}},
   "y":{"field":"v","type":"quantitative","scale":{"domain":[6,15]},"axis":{"values":[6,7,8,9,10,11,12,13,14,15],"labelOverlap":false,"title":null}}
  }}
]},
{"spacing":5,
 "resolve":{"scale":{"x":"independent","y":"independent"}},
 "hconcat":[
 {"width":160,"height":3,"data":{"values":[]},"mark":"point","encoding":{}},
 {"width":556,"height":24,"data":{"values":[{}]},
  "layer":[
   {"mark":{"type":"rect","color":"#c00000"},"encoding":{"x":{"datum":0,"type":"quantitative","scale":{"domain":[0,1]},"axis":null},"x2":{"datum":1},"y":{"datum":1,"type":"quantitative","scale":{"domain":[0,1]},"axis":null},"y2":{"datum":0.875}}},
   {"mark":{"type":"text","text":"GALAXY FUTURES","font":"Liberation Serif","fontSize":6.5,"color":"#7f7f7f"},"encoding":{"x":{"datum":0.903,"type":"quantitative"},"y":{"datum":0.4,"type":"quantitative"}}},
   {"mark":{"type":"text","text":"5","font":"Liberation Sans","fontSize":14,"fontWeight":"bold","color":"#000000"},"encoding":{"x":{"datum":0.989,"type":"quantitative"},"y":{"datum":0.4,"type":"quantitative"}}}
  ]}
]}
]
}
